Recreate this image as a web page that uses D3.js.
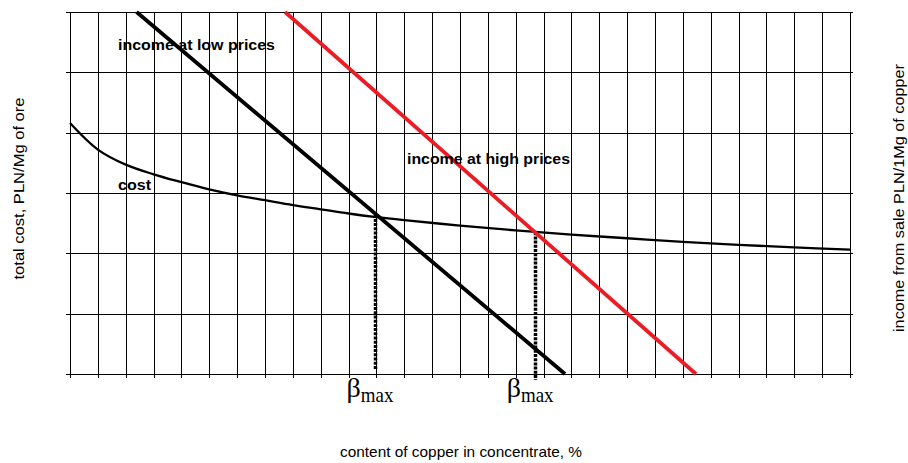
<!DOCTYPE html>
<html>
<head>
<meta charset="utf-8">
<script src="https://cdn.jsdelivr.net/npm/d3@7/dist/d3.min.js"></script>
<style>
  html, body { margin: 0; padding: 0; background: #fff; }
  svg { display: block; }
</style>
</head>
<body>
<svg id="chart" width="908" height="463"></svg>
<script>
// ---- data (grid units: x 0..28, y 0..6) ----
const costX = [0, 1, 2, 3, 4, 5, 6, 7, 8, 9, 10, 11, 12, 14, 16, 18, 20, 22, 24, 26, 28];
const costY = [4.16, 3.72, 3.47, 3.31, 3.18, 3.06, 2.96, 2.88, 2.80, 2.73, 2.66, 2.60, 2.55, 2.46, 2.38, 2.31, 2.25, 2.19, 2.14, 2.10, 2.06];
const lowIncomeX = [2.39, 17.77];
const lowIncomeY = [6, 0];
const highIncomeX = [7.72, 22.47];
const highIncomeY = [6, 0];
const betaX = [10.95, 16.7];
const betaTopY = [2.64, 2.35];
const betaBottomY = [0.07, -0.1];
const xDomain = [0, 28];
const yDomain = [0, 6];
const xTickCount = 28;
const yTickCount = 6;

(function () {
const svg = d3.select("#chart");
const mLeft = 70, mRight = 850, mTop = 12, mBottom = 374;
const x = d3.scaleLinear().domain(xDomain).range([mLeft, mRight]);
const y = d3.scaleLinear().domain(yDomain).range([mBottom, mTop]);
const W = mRight - mLeft, H = mBottom - mTop;

// vertical grid via bottom axis
const gx = svg.append("g")
  .attr("transform", `translate(0,${mBottom})`)
  .call(d3.axisBottom(x).ticks(xTickCount).tickSize(0).tickFormat(""));
gx.select(".domain").remove();
gx.selectAll(".tick line")
  .attr("y1", 4).attr("y2", -H)
  .attr("stroke", "#000").attr("stroke-width", 1).attr("shape-rendering", "crispEdges");

// horizontal grid via left axis
const gy = svg.append("g")
  .attr("transform", `translate(${mLeft},0)`)
  .call(d3.axisLeft(y).ticks(yTickCount).tickSize(0).tickFormat(""));
gy.select(".domain").remove();
gy.selectAll(".tick line")
  .attr("x1", -4).attr("x2", W + 3)
  .attr("stroke", "#000").attr("stroke-width", 1).attr("shape-rendering", "crispEdges");

// cost curve
const costData = costX.map((d, i) => [d, costY[i]]);
svg.append("path")
  .datum(costData)
  .attr("fill", "none").attr("stroke", "#000").attr("stroke-width", 2.3)
  .attr("d", d3.line().x(d => x(d[0])).y(d => y(d[1])).curve(d3.curveCatmullRom.alpha(0.5)));

// dotted beta lines
betaX.forEach((bx, i) => {
  const px = Math.floor(x(bx)) + 0.5;
  svg.append("line")
    .attr("x1", px).attr("x2", px)
    .attr("y1", y(betaTopY[i])).attr("y2", y(betaBottomY[i]))
    .attr("stroke", "#000").attr("stroke-width", 3.5)
    .attr("stroke-dasharray", "3,1.2");
});

// income lines
const lineGen = d3.line().x(d => x(d[0])).y(d => y(d[1]));
svg.append("path")
  .datum(lowIncomeX.map((d, i) => [d, lowIncomeY[i]]))
  .attr("fill", "none").attr("stroke", "#000").attr("stroke-width", 3.8)
  .attr("d", lineGen);
svg.append("path")
  .datum(highIncomeX.map((d, i) => [d, highIncomeY[i]]))
  .attr("fill", "none").attr("stroke", "#ec1c24").attr("stroke-width", 3.8)
  .attr("d", lineGen);

// annotations
const bold = (t, px, py, len) => svg.append("text")
  .attr("x", px).attr("y", py)
  .attr("font-family", "Liberation Sans, Arial, sans-serif")
  .attr("font-weight", "bold").attr("font-size", 15)
  .attr("textLength", len).attr("lengthAdjust", "spacingAndGlyphs")
  .attr("fill", "#000").text(t);
bold("income at low prices", 118, 49.5, 157);
bold("income at high prices", 407, 163.5, 163);
bold("cost", 118, 190, 33);

// beta labels
betaX.forEach((bx, i) => {
  const t = svg.append("text")
    .attr("x", x(bx) - 28.5).attr("y", 397)
    .attr("font-family", "Liberation Serif, Times New Roman, serif")
    .attr("fill", "#000");
  t.append("tspan").attr("font-size", 28).text("β");
  t.append("tspan").attr("font-size", 21).attr("dy", 5)
    .attr("textLength", 32.6).attr("lengthAdjust", "spacingAndGlyphs").text("max");
});

// axis titles
svg.append("text")
  .attr("x", 340).attr("y", 456.5)
  .attr("font-family", "Liberation Sans, Arial, sans-serif").attr("font-size", 15)
  .attr("textLength", 242).attr("lengthAdjust", "spacingAndGlyphs")
  .text("content of copper in concentrate, %");

svg.append("text")
  .attr("transform", "translate(23.5,188.5) rotate(-90)")
  .attr("text-anchor", "middle")
  .attr("font-family", "Liberation Sans, Arial, sans-serif").attr("font-size", 15)
  .attr("textLength", 182).attr("lengthAdjust", "spacingAndGlyphs")
  .text("total cost, PLN/Mg of ore");

svg.append("text")
  .attr("transform", "translate(903.5,198) rotate(-90)")
  .attr("text-anchor", "middle")
  .attr("font-family", "Liberation Sans, Arial, sans-serif").attr("font-size", 15)
  .attr("textLength", 268).attr("lengthAdjust", "spacingAndGlyphs")
  .text("income from sale PLN/1Mg of copper");
})();
</script>
</body>
</html>
